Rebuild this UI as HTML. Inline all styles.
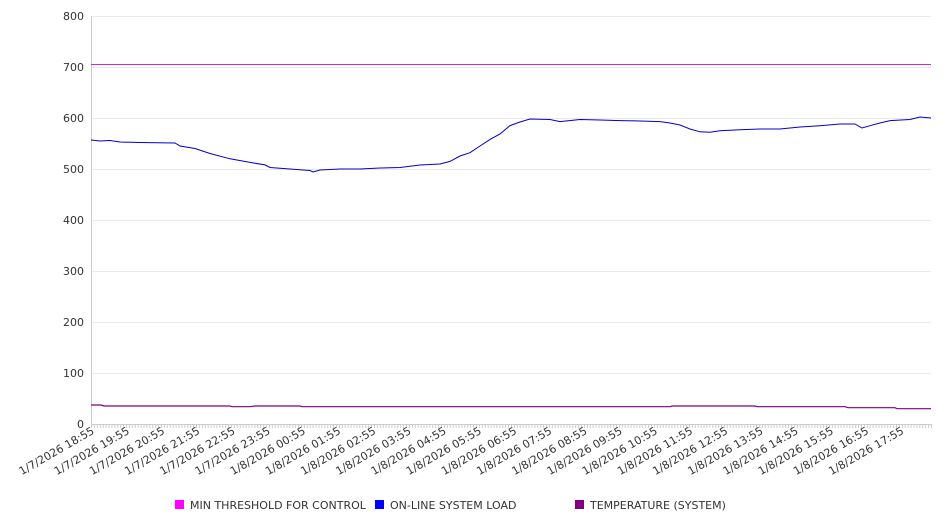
<!DOCTYPE html>
<html><head><meta charset="utf-8"><style>
html,body{margin:0;padding:0;background:#fff;}
svg{display:block;font-family:"DejaVu Sans","Liberation Sans",sans-serif;}
</style></head><body>
<svg width="946" height="526" viewBox="0 0 946 526" xmlns="http://www.w3.org/2000/svg">
<defs>
<pattern id="tk" x="91" y="424" width="2.9167" height="5" patternUnits="userSpaceOnUse">
<rect x="0" y="0" width="1" height="4" fill="#ccc"/>
</pattern>
</defs>
<g stroke="#ebebeb" stroke-width="1">
<line x1="91" y1="16.5" x2="931" y2="16.5"/><line x1="91" y1="67.5" x2="931" y2="67.5"/>
<line x1="91" y1="118.5" x2="931" y2="118.5"/><line x1="91" y1="169.5" x2="931" y2="169.5"/>
<line x1="91" y1="220.5" x2="931" y2="220.5"/><line x1="91" y1="271.5" x2="931" y2="271.5"/>
<line x1="91" y1="322.5" x2="931" y2="322.5"/><line x1="91" y1="373.5" x2="931" y2="373.5"/>
</g>
<line x1="91.5" y1="16" x2="91.5" y2="424" stroke="#ccc"/>
<line x1="91" y1="424.5" x2="931" y2="424.5" stroke="#ccc"/>
<rect x="91" y="424" width="841" height="4" fill="url(#tk)"/>
<g font-size="11" fill="#333" text-anchor="end">
<text x="84" y="20">800</text><text x="84" y="71">700</text><text x="84" y="122">600</text>
<text x="84" y="173">500</text><text x="84" y="224">400</text><text x="84" y="275">300</text>
<text x="84" y="326">200</text><text x="84" y="377">100</text><text x="84" y="428">0</text>
</g>
<g font-size="11" fill="#333" text-anchor="end">
<text transform="translate(95,433) rotate(-30)">1/7/2026 18:55</text>
<text transform="translate(130.2,433) rotate(-30)">1/7/2026 19:55</text>
<text transform="translate(165.4,433) rotate(-30)">1/7/2026 20:55</text>
<text transform="translate(200.6,433) rotate(-30)">1/7/2026 21:55</text>
<text transform="translate(235.8,433) rotate(-30)">1/7/2026 22:55</text>
<text transform="translate(271,433) rotate(-30)">1/7/2026 23:55</text>
<text transform="translate(306.2,433) rotate(-30)">1/8/2026 00:55</text>
<text transform="translate(341.4,433) rotate(-30)">1/8/2026 01:55</text>
<text transform="translate(376.6,433) rotate(-30)">1/8/2026 02:55</text>
<text transform="translate(411.8,433) rotate(-30)">1/8/2026 03:55</text>
<text transform="translate(447,433) rotate(-30)">1/8/2026 04:55</text>
<text transform="translate(482.2,433) rotate(-30)">1/8/2026 05:55</text>
<text transform="translate(517.4,433) rotate(-30)">1/8/2026 06:55</text>
<text transform="translate(552.6,433) rotate(-30)">1/8/2026 07:55</text>
<text transform="translate(587.8,433) rotate(-30)">1/8/2026 08:55</text>
<text transform="translate(623,433) rotate(-30)">1/8/2026 09:55</text>
<text transform="translate(658.2,433) rotate(-30)">1/8/2026 10:55</text>
<text transform="translate(693.4,433) rotate(-30)">1/8/2026 11:55</text>
<text transform="translate(728.6,433) rotate(-30)">1/8/2026 12:55</text>
<text transform="translate(763.8,433) rotate(-30)">1/8/2026 13:55</text>
<text transform="translate(799,433) rotate(-30)">1/8/2026 14:55</text>
<text transform="translate(834.2,433) rotate(-30)">1/8/2026 15:55</text>
<text transform="translate(869.4,433) rotate(-30)">1/8/2026 16:55</text>
<text transform="translate(904.6,433) rotate(-30)">1/8/2026 17:55</text>
</g>
<line x1="91" y1="64.5" x2="931" y2="64.5" stroke="#e020e0" stroke-width="1"/>
<polyline fill="none" stroke="#0000cc" stroke-width="1" points="91,140 100,141 110,140.5 120,142 140,142.5 175,143 180,146 195,148.5 210,153.5 230,158.8 250,162.4 265,164.9 270,167.5 290,169 310,170.5 313,172 320,170 340,169 360,169 380,168 400,167.5 420,165 440,164 450,161.4 460,156 470,152.7 480,146 490,139.4 500,134 510,125.6 520,122 530,119 550,119.5 560,121.6 580,119.5 600,120 620,120.6 640,121 660,121.6 670,123 680,125 690,129 700,131.8 710,132.3 720,130.8 740,129.7 760,129 780,129 800,127 820,125.7 840,124 855,124 862,128 870,125.7 880,123 890,120.6 910,119.5 920,117 931,118"/>
<polyline fill="none" stroke="#800080" stroke-width="1.2" points="91,405 101,405 104,406 230,406 232,406.7 250,406.7 255,406 300,406 302,406.7 670,406.7 672,406 755,406 757,406.7 845,406.7 848,407.7 895,407.7 897,408.7 931,408.7"/>
<g font-size="11" fill="#333">
<rect x="175" y="500" width="9" height="9" fill="#ff00ff"/><text x="190" y="509">MIN THRESHOLD FOR CONTROL</text>
<rect x="375" y="500" width="9" height="9" fill="#0000ff"/><text x="390" y="509">ON-LINE SYSTEM LOAD</text>
<rect x="575" y="500" width="9" height="9" fill="#800080"/><text x="590" y="509">TEMPERATURE (SYSTEM)</text>
</g>
</svg>
</body></html>
